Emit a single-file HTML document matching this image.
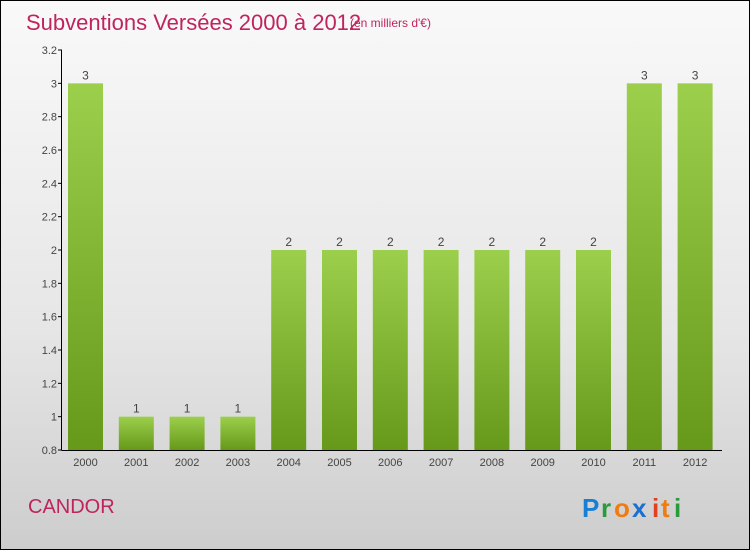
<!DOCTYPE html>
<html><head><meta charset="utf-8"><style>
body{margin:0;width:750px;height:550px;overflow:hidden;font-family:"Liberation Sans",sans-serif}
#root{position:relative;width:748px;height:548px;border:1px solid #000;background:linear-gradient(#f9f9f9,#e6e6e6 60%,#cdcdcd)}
</style></head><body>
<div id="root">
<svg width="748" height="548" viewBox="1 1 748 548">
<defs><linearGradient id="bg" x1="0" y1="0" x2="0" y2="1"><stop offset="0" stop-color="#9ccf4c"/><stop offset="1" stop-color="#66991a"/></linearGradient></defs>
<text x="26" y="30" font-size="22" fill="#c0245c">Subventions Versées 2000 à 2012</text>
<text x="350" y="27" font-size="12" fill="#c0245c">(en milliers d'€)</text>
<text x="28" y="513" font-size="20" fill="#c0245c">CANDOR</text>
<g font-size="26" font-weight="bold">
<text x="582" y="517" fill="#1a7fd4">P</text><text x="601" y="517" fill="#2a9a3a">r</text><text x="614" y="517" fill="#f07c10">o</text><text x="632" y="517" fill="#1a6fd0">x</text><text x="652" y="517" fill="#e04020">i</text><text x="661" y="517" fill="#f07c10">t</text><text x="674" y="517" fill="#2a9a3a">i</text></g>
<g id="plot"></g>
</svg></div>
<script>
const categories=["2000","2001","2002","2003","2004","2005","2006","2007","2008","2009","2010","2011","2012"];
const values=[3,1,1,1,2,2,2,2,2,2,2,3,3];
const yTicks=["0.8","1","1.2","1.4","1.6","1.8","2","2.2","2.4","2.6","2.8","3","3.2"];
const ns="http://www.w3.org/2000/svg";
const g=document.getElementById('plot');
const y=v=>450-(v-0.8)*400/2.4;
const x=i=>85.5+i*50.8;
function mk(t,a){const e=document.createElementNS(ns,t);for(const k in a)e.setAttribute(k,a[k]);g.appendChild(e);return e;}
values.forEach((v,i)=>{
 const r=mk('rect',{x:x(i)-17.5,y:y(v),width:35,height:450-y(v),fill:'url(#bg)'});
 
 
 const t=mk('text',{x:x(i),y:y(v)-4,'font-size':12,'text-anchor':'middle',fill:'#444'});t.textContent=v;
 
 
 const c=mk('text',{x:x(i),y:466,'font-size':11,'text-anchor':'middle',fill:'#444'});c.textContent=categories[i];
 
 
});
yTicks.forEach(s=>{
 const v=parseFloat(s);
 const t=mk('text',{x:57,y:y(v)+4,'font-size':11,'text-anchor':'end',fill:'#444'});t.textContent=s;
 
 
 mk('line',{x1:58,x2:62,y1:y(v),y2:y(v),stroke:'#000'});
});
const ya=mk('line',{x1:61.5,x2:61.5,y1:50,y2:450,stroke:'#000'});


const xa=mk('line',{x1:61.5,x2:722,y1:450.5,y2:450.5,stroke:'#000'});


</script>
</body></html>
